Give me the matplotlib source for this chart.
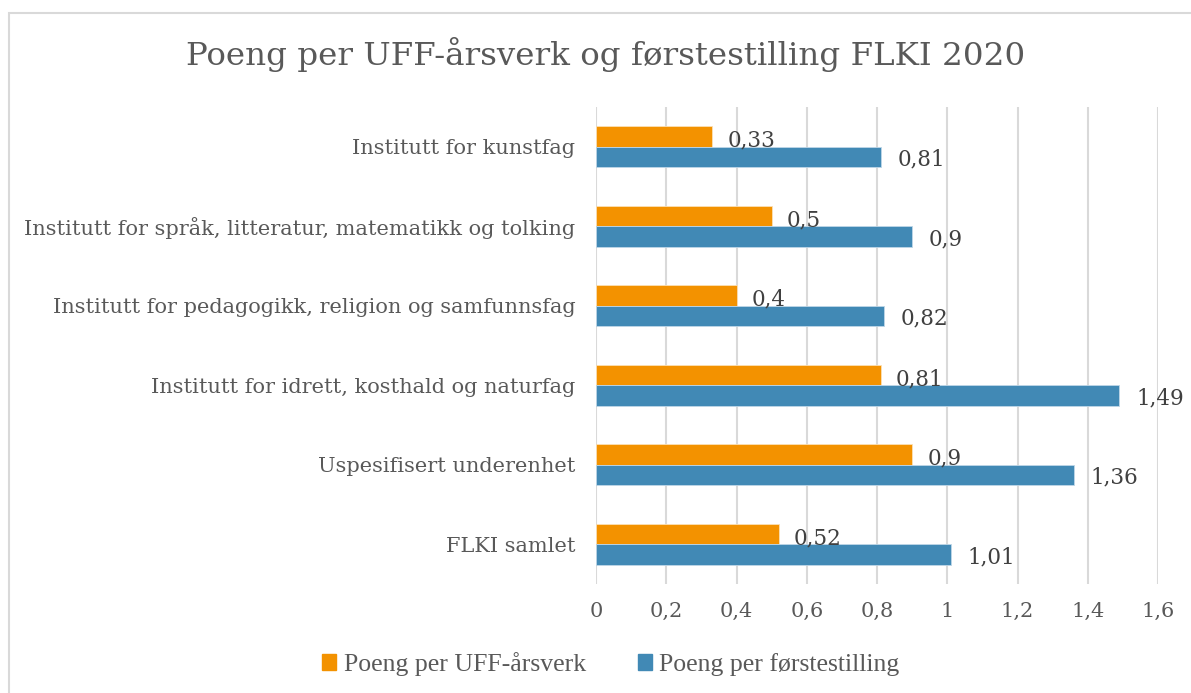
import matplotlib.pyplot as plt
import matplotlib.patches as mpatches
import numpy as np

# Chart data
categories = [
    'Institutt for kunstfag',
    'Institutt for språk, litteratur, matematikk og tolking',
    'Institutt for pedagogikk, religion og samfunnsfag',
    'Institutt for idrett, kosthald og naturfag',
    'Uspesifisert underenhet',
    'FLKI samlet',
]
uff_values = [0.33, 0.5, 0.4, 0.81, 0.9, 0.52]
forste_values = [0.81, 0.9, 0.82, 1.49, 1.36, 1.01]
series_names = ['Poeng per UFF-årsverk', 'Poeng per førstestilling']
x_ticks = [0, 0.2, 0.4, 0.6, 0.8, 1.0, 1.2, 1.4, 1.6]

orange = '#F39200'
blue = '#4189B5'
text_gray = '#595959'
label_gray = '#404040'
serif = 'DejaVu Serif'


def fmt(v):
    # Norwegian decimal comma, no trailing zeros
    s = ('%.2f' % v).rstrip('0').rstrip('.')
    return s.replace('.', ',')


W, H = 1191, 693
fig = plt.figure(figsize=(W / 100, H / 100), dpi=100)

# outer chart border (runs off the right and bottom edges)
border = mpatches.Rectangle((8.5 / W, -0.2), 1.2, 1.2 - 12.5 / H, transform=fig.transFigure,
                            fill=False, edgecolor='#D9D9D9', linewidth=1.5)
fig.patches.append(border)

ax = fig.add_axes([596 / W, 1 - 584 / H, (1158 - 596) / W, (584 - 107) / H])

y = np.arange(len(categories))
h = 0.258
ax.barh(y - h / 2, uff_values, height=h, color=orange, edgecolor='#FBE0B5', linewidth=0.6, zorder=3)
ax.barh(y + h / 2, forste_values, height=h, color=blue, edgecolor='#BFD7E8', linewidth=0.6, zorder=3)

for i in range(len(categories)):
    ax.annotate(fmt(uff_values[i]), (uff_values[i], y[i] - h / 2), xytext=(11, -3),
                textcoords='offset points', va='center', ha='left',
                fontsize=15.5, family=serif, color=label_gray, zorder=4)
    ax.annotate(fmt(forste_values[i]), (forste_values[i], y[i] + h / 2), xytext=(12, -2),
                textcoords='offset points', va='center', ha='left',
                fontsize=15.5, family=serif, color=label_gray, zorder=4)

ax.set_xlim(0, 1.6)
ax.set_ylim(len(categories) - 0.5, -0.5)
ax.set_xticks(x_ticks)
ax.set_xticklabels([fmt(t) for t in x_ticks], family=serif, fontsize=15, color=text_gray)
ax.set_yticks(y)
ax.set_yticklabels(categories, family=serif, fontsize=15, color=text_gray)
ax.tick_params(axis='x', length=0, pad=13)
ax.tick_params(axis='y', length=0, pad=15)
ax.grid(axis='x', color='#D9D9D9', linewidth=1.5, zorder=0)
for sp in ax.spines.values():
    sp.set_visible(False)

fig.text(606 / W, 1 - 54 / H, 'Poeng per UFF-årsverk og førstestilling FLKI 2020',
         ha='center', va='center', family=serif, fontsize=23.4, color=text_gray)

handles = [mpatches.Patch(color=orange), mpatches.Patch(color=blue)]
fig.legend(handles, series_names, loc='center', bbox_to_anchor=(611 / W, 1 - 664 / H),
           ncol=2, frameon=False, handlelength=0.55, handleheight=0.55, handletextpad=0.3,
           columnspacing=2.0, prop={'family': 'Liberation Serif', 'size': 18.5}, labelcolor=text_gray)

fig.savefig('out.png', dpi=100)
